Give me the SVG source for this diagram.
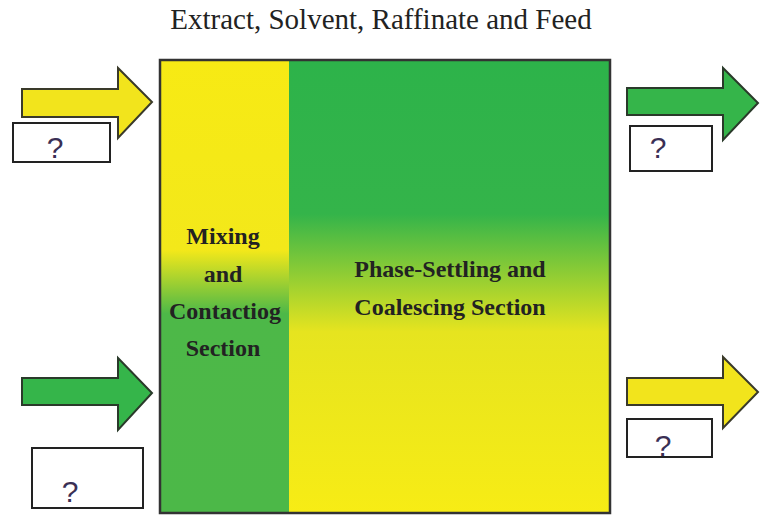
<svg xmlns="http://www.w3.org/2000/svg" width="761" height="519" viewBox="0 0 761 519">
<style>
.t{font-family:"Liberation Serif",serif;fill:#222}
.lbl{font-family:"Liberation Serif",serif;font-weight:bold;font-size:24px;fill:#222;text-anchor:middle}
.q{font-family:"Liberation Sans",sans-serif;font-size:30px;fill:#3a2f55;text-anchor:middle}
.box{fill:#fff;stroke:#222;stroke-width:2}
.arrY{fill:#f2e41c;stroke:#3a3a2a;stroke-width:2;stroke-linejoin:miter}
.arrG{fill:#35b54a;stroke:#2a3a2a;stroke-width:2;stroke-linejoin:miter}
</style>
<defs>
<linearGradient id="gl" x1="0" y1="60" x2="0" y2="513" gradientUnits="userSpaceOnUse">
<stop offset="0" stop-color="#f7ea14"/>
<stop offset="0.42" stop-color="#f3e81a"/>
<stop offset="0.56" stop-color="#4db848"/>
<stop offset="1" stop-color="#4cb848"/>
</linearGradient>
<linearGradient id="gr" x1="0" y1="60" x2="0" y2="513" gradientUnits="userSpaceOnUse">
<stop offset="0" stop-color="#2db34a"/>
<stop offset="0.34" stop-color="#34b44a"/>
<stop offset="0.6" stop-color="#e6e41f"/>
<stop offset="1" stop-color="#f7ec15"/>
</linearGradient>
</defs>
<rect width="761" height="519" fill="#fff"/>
<text class="t" x="381" y="29" font-size="29" text-anchor="middle">Extract, Solvent, Raffinate and Feed</text>
<g id="vessel">
<rect x="160" y="60" width="129" height="453" fill="url(#gl)"/>
<rect x="289" y="60" width="321" height="453" fill="url(#gr)"/>
<rect x="160" y="60" width="450" height="453" fill="none" stroke="#333" stroke-width="2.5"/>
</g>
<g id="mixing">
<text class="lbl" x="223" y="244">Mixing</text>
<text class="lbl" x="223" y="282">and</text>
<text class="lbl" x="225" y="319">Contactiog</text>
<text class="lbl" x="223" y="356">Section</text>
</g>
<g id="settling">
<text class="lbl" x="450" y="277">Phase-Settling and</text>
<text class="lbl" x="450" y="315">Coalescing Section</text>
</g>
<g id="connectors">
<polygon class="arrY" points="22,89 118,89 118,68 152,102 118,138 118,117 22,117"/>
<polygon class="arrG" points="22,378 118,378 118,358 152,393 118,430 118,405 22,405"/>
<polygon class="arrG" points="627,88 723,88 723,68 758,103 723,140 723,115 627,115"/>
<polygon class="arrY" points="627,378 723,378 723,357 758,392 723,428 723,405 627,405"/>
</g>
<g id="q1"><rect class="box" x="13" y="123" width="97" height="39"/><text class="q" x="55" y="158">?</text></g>
<g id="q2"><rect class="box" x="32" y="448" width="111" height="60"/><text class="q" x="70" y="502">?</text></g>
<g id="q3"><rect class="box" x="630" y="126" width="82" height="45"/><text class="q" x="658" y="158">?</text></g>
<g id="q4"><rect class="box" x="627" y="419" width="85" height="38"/><text class="q" x="663" y="456">?</text></g>
</svg>
